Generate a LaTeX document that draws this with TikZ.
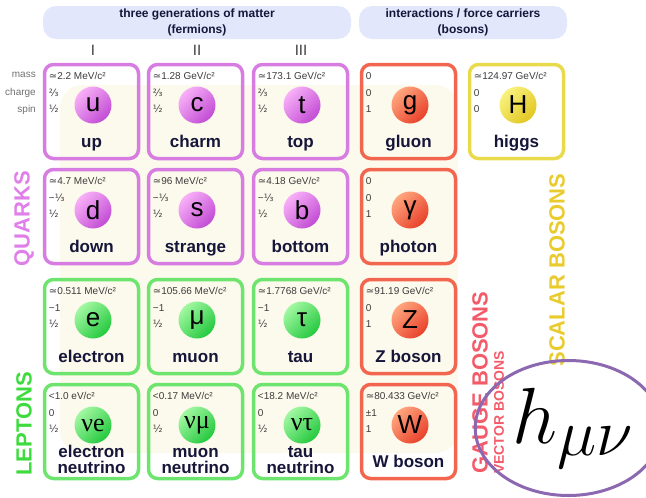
\documentclass[tikz,border=0pt]{standalone}
\usepackage{graphicx}
\usepackage{fontspec}
\setmainfont{Liberation Sans}
\newfontfamily\symfont{DejaVu Sans}
\newfontfamily\nufont{Liberation Serif}
\usetikzlibrary{positioning,shapes.geometric}

% colours of the families
\definecolor{quarkline}{HTML}{D77DE2}
\definecolor{quarklight}{HTML}{F8B0F8}
\definecolor{quarkdark}{HTML}{C24CD4}
\definecolor{leptonline}{HTML}{6DE46D}
\definecolor{leptonlight}{HTML}{A2F8A2}
\definecolor{leptondark}{HTML}{25C93F}
\colorlet{nuline}{leptonline}
\colorlet{nulight}{leptonlight}
\colorlet{nudark}{leptondark}
\definecolor{gaugeline}{HTML}{F2664F}
\definecolor{gaugelight}{HTML}{FFA67E}
\definecolor{gaugedark}{HTML}{E8412B}
\definecolor{higgsline}{HTML}{E9DA4C}
\definecolor{higgslight}{HTML}{F8F27E}
\definecolor{higgsdark}{HTML}{E3C722}
\definecolor{headfill}{HTML}{E3E7FB}
\definecolor{namecol}{HTML}{16163A}
\definecolor{infocol}{HTML}{3C3C3C}
\definecolor{rowcol}{HTML}{707070}
\definecolor{cream}{HTML}{FCFAEC}
\definecolor{quarktext}{HTML}{E07EEA}
\definecolor{leptontext}{HTML}{3DDB3D}
\definecolor{gaugetext}{HTML}{F45B6A}
\definecolor{scalartext}{HTML}{EACB2E}
\definecolor{gravcol}{HTML}{8C68B0}

\newcommand{\sapprox}{{\symfont ≃}}
\newcommand{\qtwo}{{\symfont ⅔}}
\newcommand{\qone}{{\symfont ⅓}}
\newcommand{\shalf}{{\symfont ½}}

\tikzset{
  card/.style={draw=#1line, line width=3.5pt, rounded corners=9pt,
    minimum width=94pt, minimum height=94pt, inner sep=0pt},
  ball/.style={circle, minimum size=37pt, inner sep=0pt,
    top color=#1light, bottom color=#1dark, shading angle=45,
    font=\fontsize{26}{26}\selectfont},
  info/.style={anchor=west, inner sep=0pt, text=infocol,
    font=\fontsize{10}{10}\selectfont},
  pname/.style={anchor=base, inner sep=0pt, align=center, text=namecol,
    font=\fontsize{17}{16}\selectfont\bfseries, #1name},
  quarkname/.style={yshift=-35.5pt},
  leptonname/.style={yshift=-35.5pt},
  gaugename/.style={yshift=-35.5pt},
  higgsname/.style={yshift=-35.5pt},
  nuname/.style={yshift=-41.5pt},
  rowlabel/.style={anchor=east, inner sep=0pt, text=rowcol,
    font=\fontsize{10}{10}\selectfont},
  header/.style={fill=headfill, rounded corners=13pt, minimum height=33pt,
    inner sep=0pt, align=center, text=namecol,
    font=\fontsize{12}{16}\selectfont\bfseries},
  gen/.style={inner sep=0pt, text=infocol, font=\fontsize{15}{15}\selectfont},
  famlabel/.style={rotate=90, inner sep=0pt,
    font=\fontsize{22}{22}\selectfont\bfseries}
}

% #1 name, #2 left, #3 top, #4 family, #5 mass, #6 charge, #7 spin, #8 symbol, #9 label
\newcommand{\particle}[9]{%
  \node[card=#4] (#1) at (#2+48.5,#3+48.5) {};
  \node[ball=#4] (#1-ball) at ([xshift=1.5pt,yshift=6.5pt]#1.center) {#8};
  \node[info] (#1-mass) at ([xshift=6pt,yshift=-13pt]#1.north west) {#5};
  \node[info] (#1-charge) at ([xshift=6pt,yshift=-30pt]#1.north west) {#6};
  \node[info] (#1-spin) at ([xshift=6pt,yshift=-46pt]#1.north west) {#7};
  \node[pname=#4] (#1-name) at (#1.center) {#9};
}

\begin{document}
\begin{tikzpicture}[x=1pt, y=-1pt]
  \useasboundingbox (0,0) rectangle (646,498);
  \fill[cream, rounded corners=22pt] (60,85) rectangle (458,453);

  \node[header, minimum width=308pt] (fermions) at (197,22.5) {three generations of matter\\(fermions)};
  \node[header, minimum width=208pt] (bosons) at (463,22.5) {interactions / force carriers\\(bosons)};

  \node[gen] (gen1) at (93,50) {I};
  \node[gen] (gen2) at (197,50) {II};
  \node[gen] (gen3) at (301,50) {III};

  \node[rowlabel] (masslbl) at (36,75) {mass};
  \node[rowlabel] (chargelbl) at (36,93) {charge};
  \node[rowlabel] (spinlbl) at (36,110) {spin};

  \particle{up}{43}{63}{quark}{\sapprox2.2 MeV/c²}{\qtwo}{\shalf}{u}{up}
  \particle{charm}{147}{63}{quark}{\sapprox1.28 GeV/c²}{\qtwo}{\shalf}{c}{charm}
  \particle{top}{252}{63}{quark}{\sapprox173.1 GeV/c²}{\qtwo}{\shalf}{t}{top}
  \particle{gluon}{360}{63}{gauge}{0}{0}{1}{g}{gluon}
  \particle{higgs}{468}{63}{higgs}{\sapprox124.97 GeV/c²}{0}{0}{H}{higgs}

  \particle{down}{43}{168}{quark}{\sapprox4.7 MeV/c²}{−\qone}{\shalf}{d}{down}
  \particle{strange}{147}{168}{quark}{\sapprox96 MeV/c²}{−\qone}{\shalf}{s}{strange}
  \particle{bottom}{252}{168}{quark}{\sapprox4.18 GeV/c²}{−\qone}{\shalf}{b}{bottom}
  \particle{photon}{360}{168}{gauge}{0}{0}{1}{γ}{photon}

  \particle{electron}{43}{278}{lepton}{\sapprox0.511 MeV/c²}{−1}{\shalf}{e}{electron}
  \particle{muon}{147}{278}{lepton}{\sapprox105.66 MeV/c²}{−1}{\shalf}{μ}{muon}
  \particle{tau}{252}{278}{lepton}{\sapprox1.7768 GeV/c²}{−1}{\shalf}{τ}{tau}
  \particle{zboson}{360}{278}{gauge}{\sapprox91.19 GeV/c²}{0}{1}{Z}{Z boson}

  \particle{enu}{43}{383}{nu}{<1.0 eV/c²}{0}{\shalf}{\nufont νe}{electron\\neutrino}
  \particle{munu}{147}{383}{nu}{<0.17 MeV/c²}{0}{\shalf}{\nufont νμ}{muon\\neutrino}
  \particle{taunu}{252}{383}{nu}{<18.2 MeV/c²}{0}{\shalf}{\nufont ντ}{tau\\neutrino}
  \particle{wboson}{360}{383}{gauge}{\sapprox80.433 GeV/c²}{±1}{1}{W}{W boson}

  % family labels
  \node[famlabel, text=quarktext] (quarks) at (24,218.5) {QUARKS};
  \node[famlabel, text=leptontext] (leptons) at (24,424) {LEPTONS};
  \node[famlabel, text=gaugetext] (gauge) at (480,382.5) {GAUGE BOSONS};
  \node[famlabel, text=gaugetext, font=\fontsize{14}{14}\selectfont\bfseries] (vector) at (499,412.5) {VECTOR BOSONS};
  \node[famlabel, text=scalartext] (scalar) at (557,270) {SCALAR BOSONS};

  \node[ellipse, draw=gravcol, line width=3pt, minimum width=150pt, minimum height=135pt,
    inner sep=0pt] (graviton) at (568.5,428) {\hspace*{10pt}\scalebox{3.2}{\Huge$h_{\mu\nu}$}};
\end{tikzpicture}
\end{document}
